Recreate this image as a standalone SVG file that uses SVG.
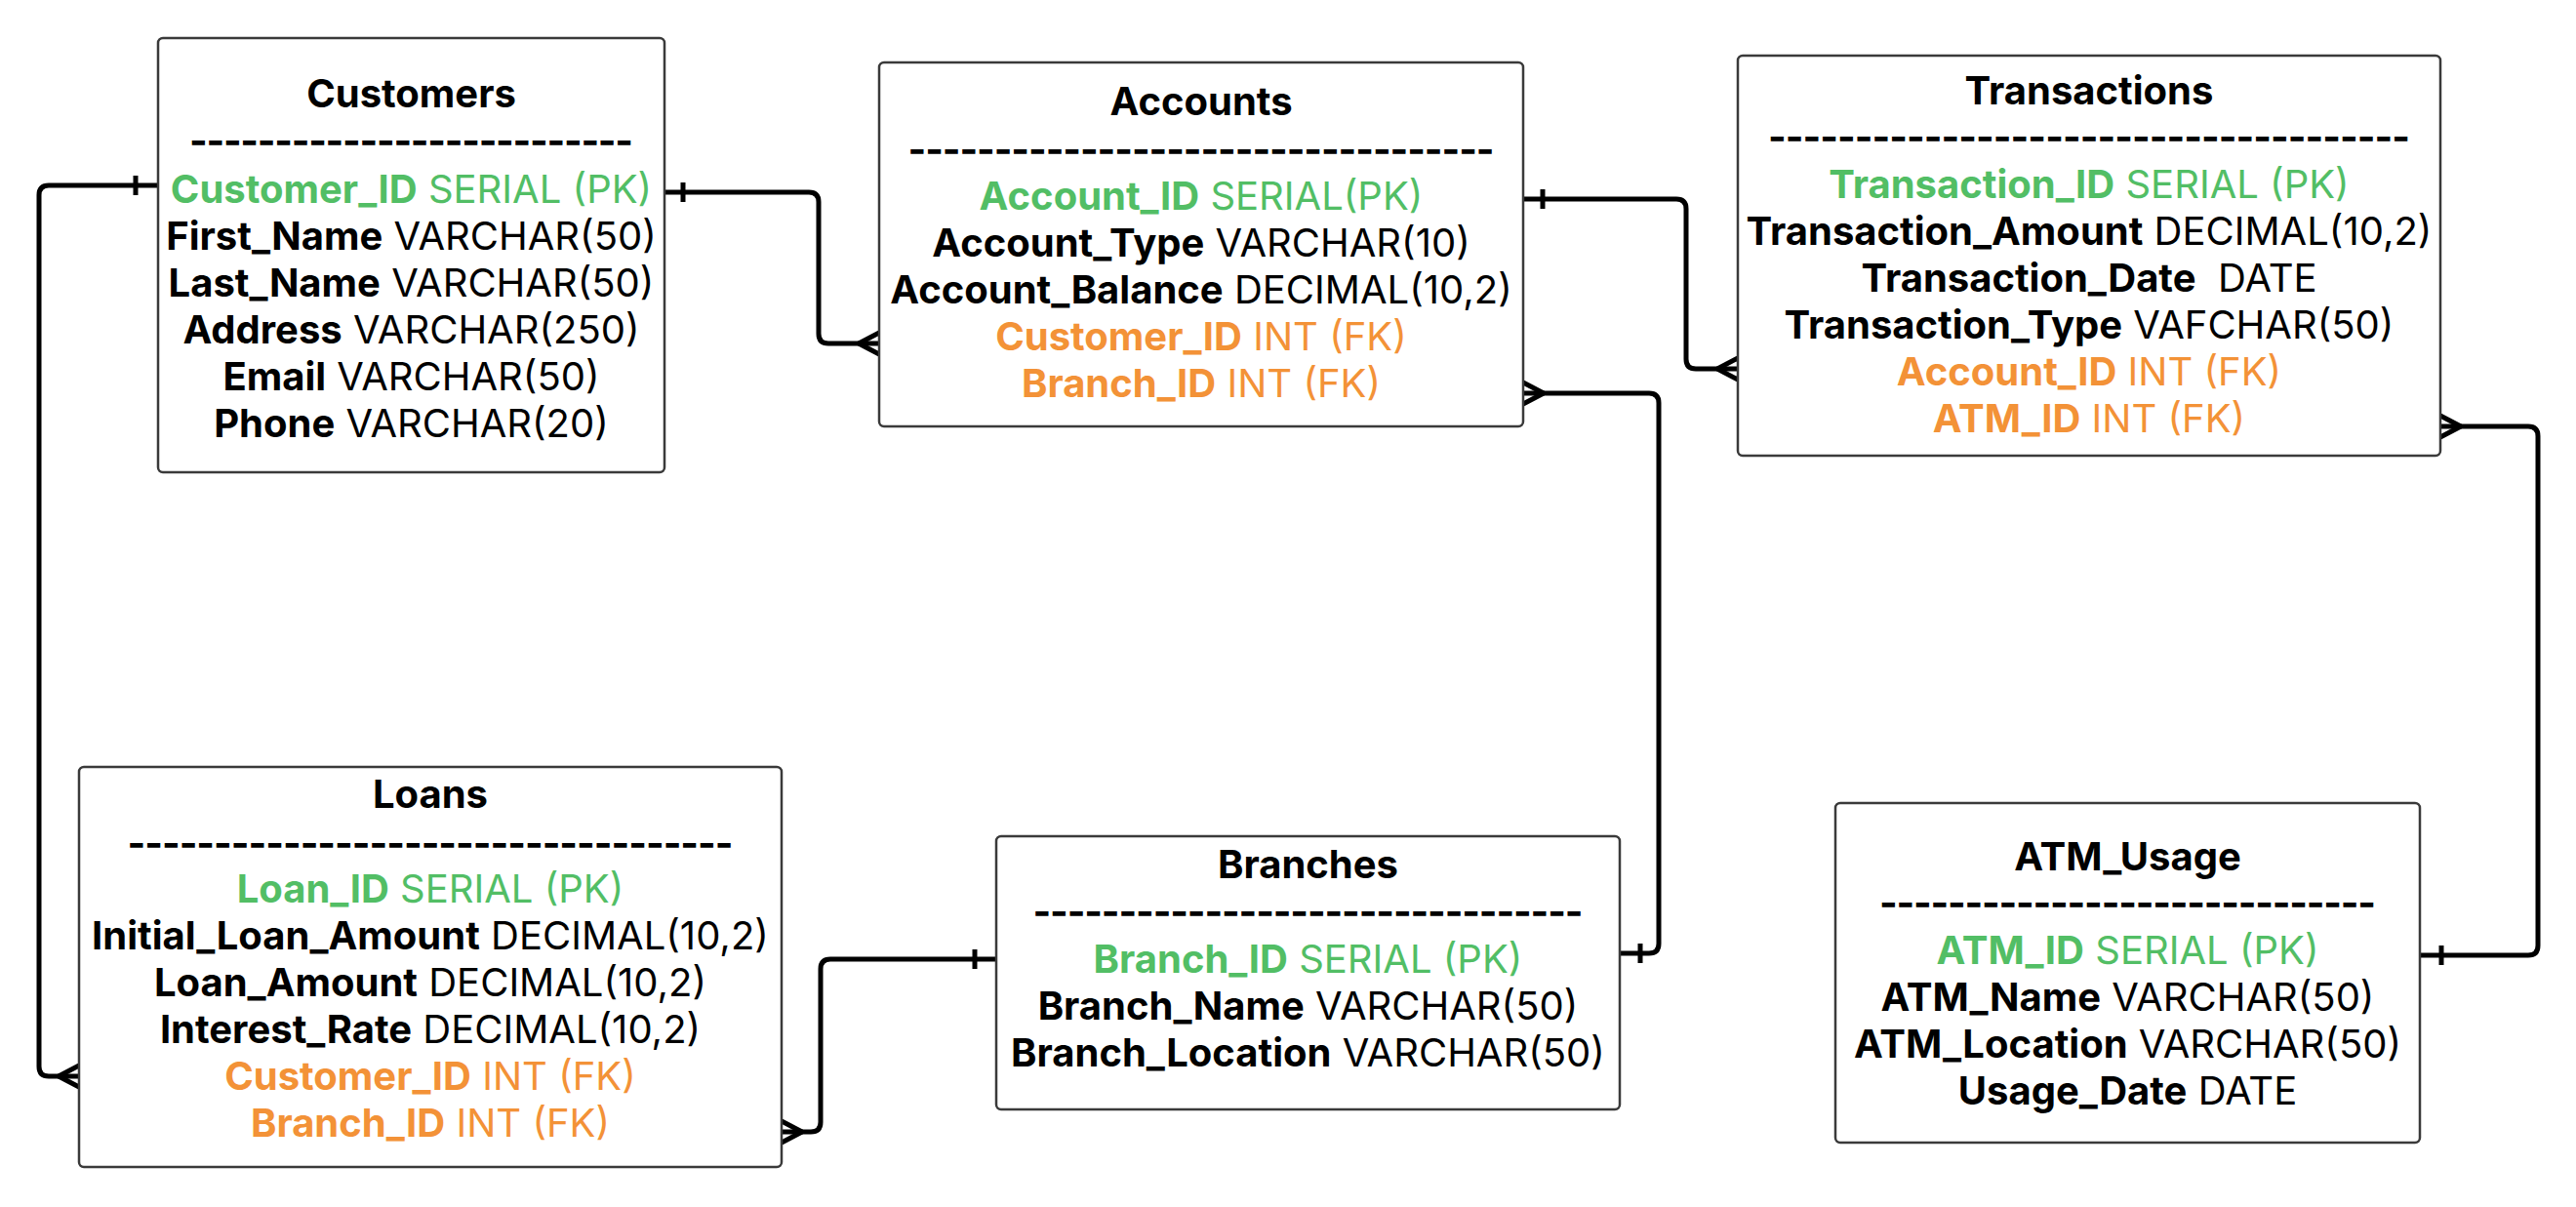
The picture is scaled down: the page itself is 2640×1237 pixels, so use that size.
<svg xmlns="http://www.w3.org/2000/svg" width="2640" height="1237" viewBox="0 0 2640 1237">
<defs>
<style>
.box{fill:#fff;stroke:#3a3a3a;stroke-width:2.5}
text{font-family:Inter,"Noto Sans","Liberation Sans",sans-serif;font-size:40px;fill:#000;text-anchor:middle}
.t{font-weight:700}
.b{font-weight:700}
.pk{fill:#52BE65}
.fk{fill:#F39237}
.d{font-weight:700}
.c{fill:none;stroke:#000;stroke-width:5;stroke-linejoin:round;stroke-linecap:butt}
</style>
</defs>
<rect width="2640" height="1237" fill="#fff"/>

<g id="connectors">
<path class="c" d="M162,190 H50 Q40,190 40,200 V1093 Q40,1103 50,1103 H81"/>
<path class="c" d="M139,180 V200"/>
<path class="c" d="M60,1103 L81,1092 M60,1103 L81,1114"/>

<path class="c" d="M681,197 H829 Q839,197 839,207 V342 Q839,352 849,352 H901"/>
<path class="c" d="M700,187 V207"/>
<path class="c" d="M880,352 L901,341 M880,352 L901,363"/>

<path class="c" d="M1561,204 H1718 Q1728,204 1728,214 V368 Q1728,378 1738,378 H1781"/>
<path class="c" d="M1581,194 V214"/>
<path class="c" d="M1760,378 L1781,367 M1760,378 L1781,389"/>

<path class="c" d="M1561,403 H1690 Q1700,403 1700,413 V967 Q1700,977 1690,977 H1660"/>
<path class="c" d="M1582,403 L1561,392 M1582,403 L1561,414"/>
<path class="c" d="M1681,967 V987"/>

<path class="c" d="M801,1160 H831 Q841,1160 841,1150 V993 Q841,983 851,983 H1021"/>
<path class="c" d="M822,1160 L801,1149 M822,1160 L801,1171"/>
<path class="c" d="M999,973 V993"/>

<path class="c" d="M2501,437 H2591 Q2601,437 2601,447 V969 Q2601,979 2591,979 H2480"/>
<path class="c" d="M2522,437 L2501,426 M2522,437 L2501,448"/>
<path class="c" d="M2502,969 V989"/>
</g>

<g id="customers">
<rect class="box" x="162" y="39" width="519" height="445" rx="5"/>
<text class="t" x="421.5" y="110">Customers</text>
<text class="d" x="421.5" y="158" textLength="455" lengthAdjust="spacing">--------------------------</text>
<text class="pk" x="421.5" y="208"><tspan class="b">Customer_ID</tspan> SERIAL (PK)</text>
<text x="421.5" y="256"><tspan class="b">First_Name</tspan> VARCHAR(50)</text>
<text x="421.5" y="304"><tspan class="b">Last_Name</tspan> VARCHAR(50)</text>
<text x="421.5" y="352"><tspan class="b">Address</tspan> VARCHAR(250)</text>
<text x="421.5" y="400"><tspan class="b">Email</tspan> VARCHAR(50)</text>
<text x="421.5" y="448"><tspan class="b">Phone</tspan> VARCHAR(20)</text>
</g>

<g id="accounts">
<rect class="box" x="901" y="64" width="660" height="373" rx="5"/>
<text class="t" x="1231" y="118">Accounts</text>
<text class="d" x="1231" y="167" textLength="601" lengthAdjust="spacing">----------------------------------</text>
<text class="pk" x="1231" y="215"><tspan class="b">Account_ID</tspan> SERIAL(PK)</text>
<text x="1231" y="263"><tspan class="b">Account_Type</tspan> VARCHAR(10)</text>
<text x="1231" y="311"><tspan class="b">Account_Balance</tspan> DECIMAL(10,2)</text>
<text class="fk" x="1231" y="359"><tspan class="b">Customer_ID</tspan> INT (FK)</text>
<text class="fk" x="1231" y="407"><tspan class="b">Branch_ID</tspan> INT (FK)</text>
</g>

<g id="transactions">
<rect class="box" x="1781" y="57" width="720" height="410" rx="5"/>
<text class="t" x="2141" y="107">Transactions</text>
<text class="d" x="2141" y="154" textLength="658" lengthAdjust="spacing">-------------------------------------</text>
<text class="pk" x="2141" y="203"><tspan class="b">Transaction_ID</tspan> SERIAL (PK)</text>
<text x="2141" y="251"><tspan class="b">Transaction_Amount</tspan> DECIMAL(10,2)</text>
<text x="2141" y="299"><tspan class="b">Transaction_Date</tspan>&#160; DATE</text>
<text x="2141" y="347"><tspan class="b">Transaction_Type</tspan> VAFCHAR(50)</text>
<text class="fk" x="2141" y="395"><tspan class="b">Account_ID</tspan> INT (FK)</text>
<text class="fk" x="2141" y="443"><tspan class="b">ATM_ID</tspan> INT (FK)</text>
</g>

<g id="loans">
<rect class="box" x="81" y="786" width="720" height="410" rx="5"/>
<text class="t" x="441" y="828">Loans</text>
<text class="d" x="441" y="878" textLength="621" lengthAdjust="spacing">-----------------------------------</text>
<text class="pk" x="441" y="925"><tspan class="b">Loan_ID</tspan> SERIAL (PK)</text>
<text x="441" y="973"><tspan class="b">Initial_Loan_Amount</tspan> DECIMAL(10,2)</text>
<text x="441" y="1021"><tspan class="b">Loan_Amount</tspan> DECIMAL(10,2)</text>
<text x="441" y="1069"><tspan class="b">Interest_Rate</tspan> DECIMAL(10,2)</text>
<text class="fk" x="441" y="1117"><tspan class="b">Customer_ID</tspan> INT (FK)</text>
<text class="fk" x="441" y="1165"><tspan class="b">Branch_ID</tspan> INT (FK)</text>
</g>

<g id="branches">
<rect class="box" x="1021" y="857" width="639" height="280" rx="5"/>
<text class="t" x="1340.5" y="900">Branches</text>
<text class="d" x="1340.5" y="948" textLength="564" lengthAdjust="spacing">--------------------------------</text>
<text class="pk" x="1340.5" y="997"><tspan class="b">Branch_ID</tspan> SERIAL (PK)</text>
<text x="1340.5" y="1045"><tspan class="b">Branch_Name</tspan> VARCHAR(50)</text>
<text x="1340.5" y="1093"><tspan class="b">Branch_Location</tspan> VARCHAR(50)</text>
</g>

<g id="atm_usage">
<rect class="box" x="1881" y="823" width="599" height="348" rx="5"/>
<text class="t" x="2180.5" y="892">ATM_Usage</text>
<text class="d" x="2180.5" y="939" textLength="509" lengthAdjust="spacing">-----------------------------</text>
<text class="pk" x="2180.5" y="988"><tspan class="b">ATM_ID</tspan> SERIAL (PK)</text>
<text x="2180.5" y="1036"><tspan class="b">ATM_Name</tspan> VARCHAR(50)</text>
<text x="2180.5" y="1084"><tspan class="b">ATM_Location</tspan> VARCHAR(50)</text>
<text x="2180.5" y="1132"><tspan class="b">Usage_Date</tspan> DATE</text>
</g>
</svg>
